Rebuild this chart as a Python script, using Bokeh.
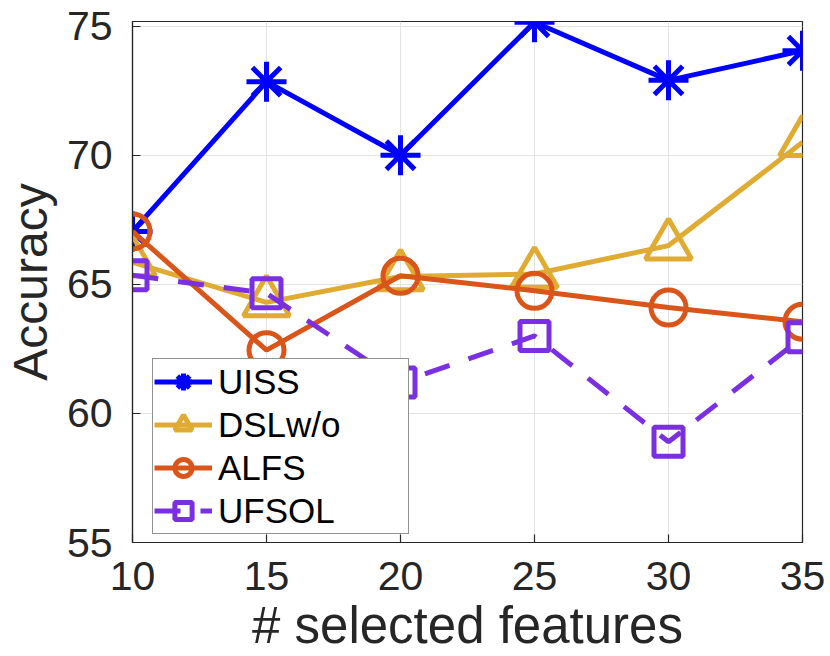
from bokeh.plotting import figure
from bokeh.models import Range1d, FixedTicker, Legend, LegendItem
from bokeh.embed import file_html
from bokeh.resources import INLINE

# ---- data ----
features = [10, 15, 20, 25, 30, 35]
uiss = [67.05, 72.85, 70.0, 75.15, 72.9, 74.05]
dsl = [65.85, 64.3, 65.3, 65.4, 66.5, 70.5]
alfs = [67.05, 62.45, 65.33, 64.75, 64.1, 63.55]
ufsol = [65.35, 64.65, 61.2, 63.0, 58.9, 62.95]
series_names = ["UISS", "DSLw/o", "ALFS", "UFSOL"]
x_ticks = [10, 15, 20, 25, 30, 35]
y_ticks = [55, 60, 65, 70, 75]

TXT = "#262626"
FONT = "Liberation Sans"

p = figure(width=830, height=656, output_backend="svg", toolbar_location=None,
           x_range=Range1d(10, 35), y_range=Range1d(55, 75.18),
           min_border_left=131, min_border_right=28, min_border_top=21, min_border_bottom=112)

p.xgrid.grid_line_color = "#e3e3e3"
p.ygrid.grid_line_color = "#e3e3e3"
p.xgrid.ticker = FixedTicker(ticks=x_ticks)
p.ygrid.ticker = FixedTicker(ticks=y_ticks)
p.outline_line_color = TXT
p.outline_line_width = 1.2

for ax, ticks in ((p.xaxis[0], x_ticks), (p.yaxis[0], y_ticks)):
    ax.ticker = FixedTicker(ticks=ticks)
    ax.axis_line_color = TXT
    ax.axis_line_width = 1.2
    ax.major_tick_line_color = TXT
    ax.major_tick_line_width = 1.2
    ax.major_tick_in = 8
    ax.major_tick_out = 0
    ax.minor_tick_line_color = None
    ax.major_label_text_font = FONT
    ax.major_label_text_font_size = "41px"
    ax.major_label_text_color = TXT
    ax.axis_label_text_font = FONT
    ax.axis_label_text_font_style = "normal"
    ax.axis_label_text_color = TXT

p.xaxis.axis_label = "# selected features"
p.yaxis.axis_label = "Accuracy"
p.xaxis.axis_label_text_font_size = "51px"
p.yaxis.axis_label_text_font_size = "48px"
p.xaxis.major_label_standoff = 19
p.xaxis.axis_label_standoff = 4
p.yaxis.major_label_standoff = 20
p.yaxis.axis_label_standoff = 7

LW = 5
items = []

r1 = p.line(features, uiss, line_color="#0000ff", line_width=LW)
s1 = p.scatter(features, uiss, marker="asterisk", size=40, line_color="#0000ff", line_width=LW)
items.append(LegendItem(label=series_names[0], renderers=[r1, s1]))

r2 = p.line(features, dsl, line_color="#e0ab33", line_width=LW)
s2 = p.scatter(features, dsl, marker="triangle", size=46, line_color="#e0ab33", line_width=LW,
               fill_color=None)
items.append(LegendItem(label=series_names[1], renderers=[r2, s2]))

r3 = p.line(features, alfs, line_color="#da5519", line_width=LW)
s3 = p.scatter(features, alfs, marker="circle", size=35, line_color="#da5519", line_width=LW,
               fill_color=None)
items.append(LegendItem(label=series_names[2], renderers=[r3, s3]))

r4 = p.line(features, ufsol, line_color="#7b2fe2", line_width=LW, line_dash="26 20")
s4 = p.scatter(features, ufsol, marker="square", size=29, line_color="#7b2fe2", line_width=LW,
               fill_color=None)
items.append(LegendItem(label=series_names[3], renderers=[r4, s4]))

legend = Legend(items=items, location=(20, 8), margin=0, padding=1, spacing=0,
                glyph_width=58, glyph_height=43, label_height=43, label_width=189,
                label_standoff=6,
                label_text_font=FONT, label_text_font_size="35px", label_text_color="#000000",
                border_line_color=TXT, border_line_width=1.2,
                background_fill_color="white", background_fill_alpha=1.0)
p.add_layout(legend, "center")

open("out.html", "w").write(file_html(p, INLINE))
